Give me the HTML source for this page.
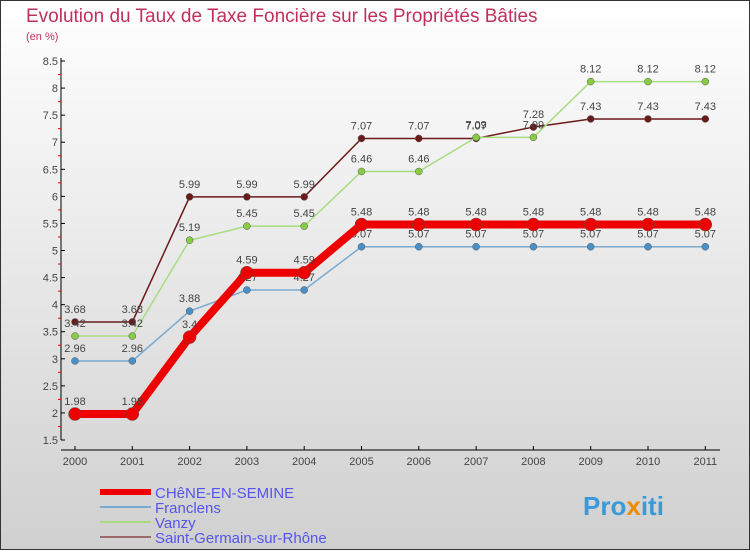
<!DOCTYPE html>
<html><head><meta charset="utf-8"><style>
body{margin:0}
#c{width:750px;height:550px;position:relative;font-family:"Liberation Sans",sans-serif}
</style></head><body>
<div id="c">
<svg width="750" height="550" id="svg">
<defs><linearGradient id="bg" x1="0" y1="0" x2="0" y2="1"><stop offset="0" stop-color="#ffffff"/><stop offset="1" stop-color="#d0d0d0"/></linearGradient></defs>
<rect x="0.5" y="0.5" width="749" height="549" fill="url(#bg)" stroke="#333"/>
<text x="26" y="22" font-size="19" fill="#c0305a">Evolution du Taux de Taxe Foncière sur les Propriétés Bâties</text>
<text x="26" y="40" font-size="11" fill="#c0305a">(en %)</text>
<g id="g"></g>
<text x="583" y="515" font-size="26" font-weight="bold" fill="#3a9ad9">Pro<tspan fill="#f08a00">x</tspan>iti</text>
</svg>
</div>
<script>
const years=["2000","2001","2002","2003","2004","2005","2006","2007","2008","2009","2010","2011"];
const yTicks=[1.5,2,2.5,3,3.5,4,4.5,5,5.5,6,6.5,7,7.5,8,8.5];
const chene=[1.98,1.98,3.4,4.59,4.59,5.48,5.48,5.48,5.48,5.48,5.48,5.48];
const franclens=[2.96,2.96,3.88,4.27,4.27,5.07,5.07,5.07,5.07,5.07,5.07,5.07];
const vanzy=[3.42,3.42,5.19,5.45,5.45,6.46,6.46,7.09,7.09,8.12,8.12,8.12];
const sgr=[3.68,3.68,5.99,5.99,5.99,7.07,7.07,7.07,7.28,7.43,7.43,7.43];
const names=["CHêNE-EN-SEMINE","Franclens","Vanzy","Saint-Germain-sur-Rhône"];
const NS="http://www.w3.org/2000/svg";
const g=document.getElementById('g');
const X=i=>75+i*57.3;
const Y=v=>440-(v-1.5)*54.14;
function el(t,a,p){const e=document.createElementNS(NS,t);for(const k in a)e.setAttribute(k,a[k]);(p||g).appendChild(e);return e;}
let ax=el('line',{x1:61,y1:58,x2:61,y2:440,stroke:'#000'});


let bx=el('line',{x1:61,y1:450,x2:720,y2:450,stroke:'#000'});


yTicks.forEach(v=>{
 el('line',{x1:61,y1:Y(v),x2:65,y2:Y(v),stroke:'#000'});
 if(v<8.5)el('line',{x1:58,y1:Y(v+0.25),x2:61,y2:Y(v+0.25),stroke:'#e00'});
 const t=el('text',{x:58,y:Y(v)+4,'font-size':11,'text-anchor':'end',fill:'#444'});
 t.textContent=v;
 
 
});
years.forEach((y,i)=>{
 el('line',{x1:X(i),y1:446,x2:X(i),y2:450,stroke:'#000'});
 const t=el('text',{x:X(i),y:465,'font-size':11,'text-anchor':'middle',fill:'#444'});
 t.textContent=y;
 
 
});
const series=[
 {d:sgr,c:'#6b1a1a',w:1.5,r:3.5,fc:'#6b1a1a',lc:'#9a6a6a'},
 {d:vanzy,c:'#a8dc80',w:1.5,r:3.5,fc:'#88cc44',lc:'#a8dc80'},
 {d:franclens,c:'#7aaad0',w:1.5,r:3.5,fc:'#4a90c8',lc:'#7aaad0'},
 {d:chene,c:'#ee0000',w:8,r:6.5,fc:'#ee0000',lc:'#ee0000'}];
const sn=['saint-germain','vanzy','franclens','chene'];
series.forEach((s,k)=>{
 const p=el('polyline',{points:s.d.map((v,i)=>X(i)+','+Y(v)).join(' '),fill:'none',stroke:s.c,'stroke-width':s.w});
 
 
 s.d.forEach((v,i)=>{
  const c=el('circle',{cx:X(i),cy:Y(v),r:s.r,fill:s.fc,stroke:'#555','stroke-width':0.5});
  
  
  const t=el('text',{x:X(i),y:Y(v)-9,'font-size':11,'text-anchor':'middle',fill:'#444'});
  t.textContent=v;
  
  
 });
});
const leg=[{c:'#ee0000',w:6},{c:'#7aaad0',w:2},{c:'#a8dc80',w:2},{c:'#9a6a6a',w:2}];
leg.forEach((l,i)=>{
 const yy=492+i*15;
 el('line',{x1:100,y1:yy,x2:151,y2:yy,stroke:l.c,'stroke-width':l.w});
 const t=el('text',{x:155,y:yy+6,'font-size':15,fill:'#5555ee'});
 t.textContent=names[i];
 
 
});
</script>
</body></html>
